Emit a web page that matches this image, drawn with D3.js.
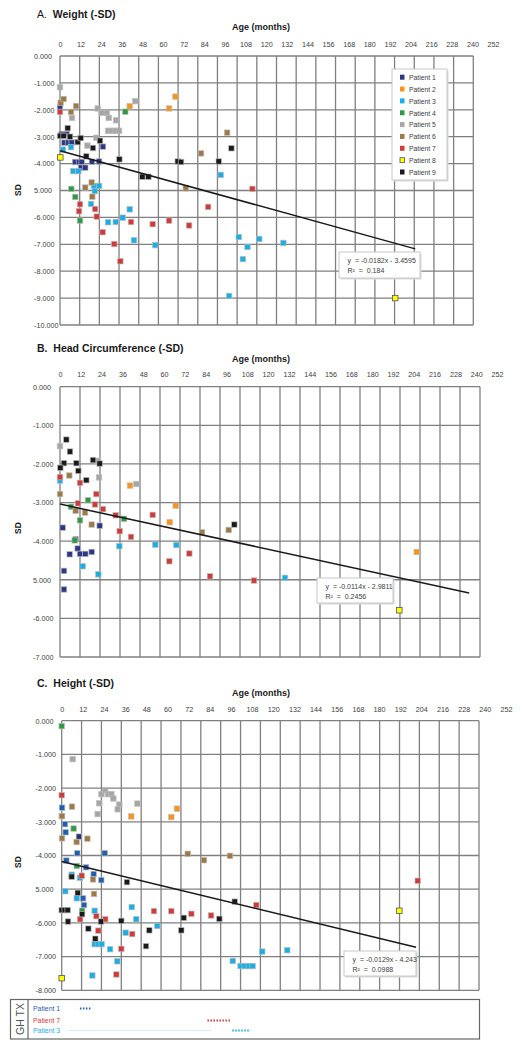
<!DOCTYPE html>
<html><head><meta charset="utf-8">
<script src="https://cdn.jsdelivr.net/npm/d3@7"></script>
<style>
body{margin:0;background:#fff;}
svg{display:block;font-family:"Liberation Sans",Arial,sans-serif;}
</style>
</head><body>
<svg id="c" width="521" height="1050"></svg>
<script>
// ---------- DATA ----------
const ageTicks = [0,12,24,36,48,60,72,84,96,108,120,132,144,156,168,180,192,204,216,228,240,252];
const patients = ["Patient 1","Patient 2","Patient 3","Patient 4","Patient 5","Patient 6","Patient 7","Patient 8","Patient 9"];
const weightTickLabels = ["0.000","-1.000","-2.000","-3.000","-4.000","5.000","-6.000","-7.000","-8.000","-9.000","-10.000"];
const headTickLabels = ["0.000","-1.000","-2.000","-3.000","-4.000","5.000","-6.000","-7.000"];
const heightTickLabels = ["0.000","-1.000","-2.000","-3.000","-4.000","5.000","-6.000","-7.000","-8.000"];

// [patient, age (months), SD]
const weightPoints = [
 [1,0,-1.91],[1,1,-2.90],[1,4.1,-2.90],[1,2.6,-3.22],[1,4.9,-3.22],[1,7.1,-3.22],[1,26.2,-3.37],[1,9.2,-3.94],[1,11.6,-3.94],[1,13.2,-3.94],[1,19.5,-3.93],[1,23.8,-3.92],[1,12.8,-4.15],[1,15.4,-4.15],
 [2,42.5,-1.87],[2,70.4,-1.51],[2,66.5,-1.95],
 [3,1.8,-3.48],[3,6.7,-3.39],[3,8.1,-4.28],[3,11.2,-4.28],[3,98,-4.42],[3,20.7,-4.83],[3,23.8,-4.83],[3,21.2,-5.02],[3,18.9,-5.50],[3,29.3,-6.18],[3,34,-6.17],[3,38.2,-6.01],[3,42.5,-5.70],[3,45.1,-6.85],[3,58.1,-7.03],[3,109,-6.73],[3,111.5,-7.55],[3,114.3,-7.10],[3,103.1,-8.92],[3,121.5,-6.80],[3,136.2,-6.95],
 [4,39.8,-2.07],[4,6.9,-4.94],[4,9.3,-5.24],[4,12.2,-6.12],
 [5,0,-1.16],[5,7.3,-2.30],[5,23,-1.95],[5,25.4,-2.11],[5,28.5,-2.11],[5,29.7,-2.30],[5,34.2,-2.39],[5,29.3,-2.78],[5,31.5,-2.78],[5,33.8,-2.78],[5,36,-2.78],[5,45.9,-1.68],[5,16.7,-3.33],[5,22.1,-3.04],
 [6,0.4,-1.74],[6,2.2,-1.60],[6,9.8,-1.86],[6,6.7,-2.08],[6,101.9,-2.85],[6,86,-3.62],[6,15.4,-4.89],[6,19.3,-4.70],[6,19.7,-5.23],[6,76.7,-4.92],
 [7,0,-2.08],[7,12.2,-5.51],[7,11.6,-5.77],[7,21.4,-5.69],[7,22.4,-5.97],[7,26,-6.55],[7,43.3,-6.17],[7,33.1,-6.99],[7,36.8,-7.63],[7,56.5,-6.25],[7,66.5,-6.12],[7,78.7,-6.30],[7,90.3,-5.61],[7,117.3,-4.94],
 [8,0.2,-3.77],[8,204.4,-9.0],
 [9,4.7,-2.68],[9,0,-2.97],[9,2.2,-2.97],[9,6.1,-3.0],[9,10.8,-3.2],[9,12.6,-3.05],[9,24.4,-3.15],[9,20.1,-3.42],[9,16,-3.73],[9,36.2,-3.84],[9,50.2,-4.49],[9,53.9,-4.49],[9,71.8,-3.92],[9,73.8,-3.94],[9,96.8,-3.92],[9,104.5,-3.43]
];
const headPoints = [
 [1,23.8,-3.60],[1,1.6,-3.65],[1,9.4,-3.95],[1,10.6,-4.19],[1,5.8,-4.34],[1,12,-4.33],[1,15.2,-4.33],[1,19,-4.28],[1,2.4,-4.77],[1,2.4,-5.25],
 [2,42,-2.56],[2,69.4,-3.08],[2,65.8,-3.51],[2,214,-4.28],
 [3,0,-2.43],[3,13.6,-4.65],[3,23,-4.86],[3,35.6,-4.13],[3,57.2,-4.09],[3,69.8,-4.10],[3,135,-4.95],
 [4,16.8,-2.94],[4,6.6,-3.11],[4,12,-3.46],[4,38.4,-3.42],[4,8.8,-3.98],
 [5,0,-1.54],[5,22.6,-1.92],[5,23.4,-2.35],[5,45.8,-2.52],
 [6,5.6,-2.30],[6,0,-2.78],[6,9.4,-3.21],[6,15,-3.26],[6,19,-3.57],[6,101.2,-3.71],[6,85.2,-3.77],
 [7,0,-2.34],[7,12,-2.49],[7,21.8,-2.78],[7,10.8,-3.02],[7,21,-3.05],[7,25.8,-3.17],[7,33.4,-3.33],[7,55.6,-3.32],[7,35.8,-3.74],[7,42.6,-3.89],[7,65.6,-4.52],[7,77.6,-4.32],[7,90,-4.91],[7,116.4,-5.02],
 [8,203.6,-5.79],
 [9,3.8,-1.37],[9,6,-1.68],[9,2.4,-1.98],[9,0.2,-2.10],[9,9.8,-1.98],[9,11,-2.18],[9,19.8,-1.90],[9,23.8,-1.99],[9,15.8,-2.42],[9,104.6,-3.57]
];
const heightPoints = [
 [1,0.2,-2.58],[1,2,-3.07],[1,2.4,-3.31],[1,9.4,-3.93],[1,26,-3.93],[1,2.8,-4.15],[1,14.7,-4.35],[1,19.3,-4.55],[1,23.9,-4.73],[1,12.9,-5.27],[1,13.5,-5.47],[0,10.4,-3.44],
 [2,42,-2.84],[2,66.2,-2.86],[2,69.6,-2.61],
 [3,6,-4.57],[3,11,-4.66],[3,2.2,-5.06],[3,9.1,-5.27],[3,19.9,-5.64],[3,19.9,-6.63],[3,22.2,-6.63],[3,24.1,-6.63],[3,29.2,-6.78],[3,33.6,-7.14],[3,18.5,-7.56],[3,42.3,-5.53],[3,45,-5.89],[3,38.6,-6.29],[3,57.7,-6.09],[3,103.3,-7.13],[3,108,-7.28],[3,110.5,-7.28],[3,113,-7.28],[3,115.3,-7.28],[3,121.1,-6.85],[3,136.2,-6.81],
 [4,0,-0.16],[4,7.2,-3.20],[4,9.1,-4.31],[4,12.3,-5.64],
 [5,6.6,-1.14],[5,0,-2.83],[5,22.7,-2.45],[5,21.7,-2.77],[5,24,-2.18],[5,26.3,-2.06],[5,28,-2.18],[5,30,-2.18],[5,31.2,-2.31],[5,34.8,-2.49],[5,33.8,-2.63],[5,45.7,-2.46],
 [6,6.2,-2.55],[6,0.2,-2.83],[6,15.5,-3.50],[6,0.2,-3.49],[6,9,-3.60],[6,18.9,-4.71],[6,19.5,-5.14],[6,76.1,-3.95],[6,85.9,-4.14],[6,101.6,-4.01],
 [7,0,-2.21],[7,12.1,-4.60],[7,20.9,-5.80],[7,11.1,-5.89],[7,26.3,-5.89],[7,22.1,-6.23],[7,36,-6.77],[7,33,-7.53],[7,42.6,-6.33],[7,55.7,-5.65],[7,66.2,-5.65],[7,78.3,-5.73],[7,90.2,-5.78],[7,117.5,-5.47],[7,215,-4.75],
 [8,0,-7.64],[8,203.9,-5.64],
 [9,6,-4.63],[9,39.4,-4.79],[9,9.7,-5.11],[9,0,-5.62],[9,1.8,-5.62],[9,3.6,-5.62],[9,12.3,-5.74],[9,3.8,-5.96],[9,23.7,-5.96],[9,36,-5.94],[9,16.1,-6.17],[9,20.3,-6.47],[9,52.9,-6.22],[9,50.9,-6.69],[9,72.2,-6.22],[9,73.7,-5.85],[9,95.2,-5.88],[9,104.5,-5.37]
];
// trend lines: [[age0, sd0],[age1, sd1]]
const weightTrend = [[0,-3.52],[216.6,-7.17]];
const headTrend = [[0,-3.04],[245.5,-5.34]];
const heightTrend = [[0,-4.18],[214,-6.72]];
const weightEquation = ["y  = -0.0182x - 3.4595","R\u00B2  =  0.184"];
const headEquation = ["y  = -0.0114x - 2.9811","R\u00B2  =  0.2456"];
const heightEquation = ["y  = -0.0129x - 4.243","R\u00B2  =  0.0988"];
// GH treatment periods (months)
const ghPatients = ["Patient 1","Patient 7","Patient 3"];
const ghPeriods = [[0,11,18,"thick"],[1,88,102,"thick"],[2,4.6,90,"thin"],[2,103,114,"thick"]];

// ---------- STYLE ----------
const colors = {0:"#2b2f78",1:"#2d3784",2:"#f7941d",3:"#1aaee5",4:"#2e9a44",5:"#a6a6a6",6:"#9b7a48",7:"#cf3b3b",8:"#ffff00",9:"#1a1a1a"};
const heightColors = Object.assign({}, colors, {1:"#1f5fae"});
const ghColors = ["#2a5ca8","#cf3b3b","#1aaee5"];
const gridColor = "#808080";
const FONT = "Liberation Sans, Arial, sans-serif";

const svg = d3.select("#c");

function panel(cfg){
  const g = svg.append("g");
  const x = d3.scaleLinear().domain([0,252]).range([cfg.x0,cfg.x1]);
  const xl = d3.scaleLinear().domain([0,252]).range([cfg.x0,cfg.labelEnd]);
  const y = d3.scaleLinear().domain([0,cfg.yMin]).range([cfg.yTop,cfg.yBot]);
  const yTicks = d3.range(0,cfg.yMin-1,-1);

  // title
  const t = g.append("text").attr("x",37).attr("y",cfg.titleY).attr("font-size",10.5).attr("fill","#1a1a1a");
  t.append("tspan").attr("font-weight",cfg.letterBold?"bold":"normal").text(cfg.letter+"\u00A0\u00A0");
  t.append("tspan").attr("font-weight","bold").text(cfg.title);
  g.append("text").attr("x",232).attr("y",cfg.ageY).attr("font-size",9).attr("font-weight","bold").attr("fill","#1a1a1a").text("Age (months)");

  // grid
  g.append("g").selectAll("line").data(ageTicks).join("line")
    .attr("x1",d=>x(d)).attr("x2",d=>x(d)).attr("y1",cfg.yTop).attr("y2",cfg.yBot)
    .attr("stroke",gridColor).attr("stroke-width",1.3);
  g.append("g").selectAll("line").data(yTicks).join("line")
    .attr("x1",cfg.x0).attr("x2",cfg.x1).attr("y1",d=>y(d)).attr("y2",d=>y(d))
    .attr("stroke",gridColor).attr("stroke-width",1.3);

  // top age axis labels
  const ax = d3.axisTop(xl).tickValues(ageTicks).tickSize(0).tickFormat(d3.format("d"));
  const axg = g.append("g").attr("transform",`translate(0,${cfg.tickY})`).call(ax);
  axg.select(".domain").remove();
  axg.selectAll("text").attr("font-size",7.2).attr("fill","#404040").attr("font-family",FONT).attr("dy","0.35em");

  // left SD labels (left aligned as in the original)
  const ay = d3.axisLeft(y).tickValues(yTicks).tickSize(0).tickFormat((d,i)=>cfg.yLabels[i]);
  const ayg = g.append("g").attr("transform",`translate(${cfg.yLabelX},0)`).call(ay);
  ayg.select(".domain").remove();
  ayg.selectAll("text").attr("font-size",7.2).attr("fill","#404040").attr("font-family",FONT)
    .attr("text-anchor","start").attr("x",0);

  g.append("text").attr("transform",`translate(21,${cfg.sdY}) rotate(-90)`).attr("text-anchor","middle")
    .attr("font-size",8.5).attr("font-weight","bold").attr("fill","#1a1a1a").text("SD");

  // points
  const pts = cfg.points.slice().sort((a,b)=>(a[0]||1)-(b[0]||1));
  const s = 5.5;
  g.append("g").selectAll("rect").data(pts).join("rect")
    .attr("x",d=>x(d[1])-s/2).attr("y",d=>y(d[2])-s/2).attr("width",s).attr("height",s)
    .attr("fill",d=>cfg.colors[d[0]])
    .attr("stroke",d=>d[0]===8?"#555":"rgba(190,190,190,0.8)").attr("stroke-width",0.8);

  // trend
  g.append("path").datum(cfg.trend).attr("d",d3.line().x(d=>x(d[0])).y(d=>y(d[1])))
    .attr("stroke","#1a1a1a").attr("stroke-width",1.5).attr("fill","none");

  // equation box
  const e = cfg.eq;
  g.append("rect").attr("x",e.x+1.5).attr("y",e.y+1.5).attr("width",e.w).attr("height",e.h).attr("fill","#d9d9d9");
  g.append("rect").attr("x",e.x).attr("y",e.y).attr("width",e.w).attr("height",e.h).attr("fill","#fff").attr("stroke","#c8c8c8").attr("stroke-width",1);
  cfg.eqText.forEach((line,i)=>{
    g.append("text").attr("x",e.x+8.5).attr("y",e.y+10.5+i*10.5).attr("font-size",7).attr("fill","#404040")
      .attr("xml:space","preserve").style("white-space","pre").text(line);
  });
  return {x,y,g};
}

panel({letter:"A.",letterBold:false,title:"Weight (-SD)",titleY:18,ageY:30,tickY:47,
  x0:60,x1:473.3,labelEnd:493,yTop:56,yBot:325,yMin:-10,yLabels:weightTickLabels,yLabelX:34,sdY:190,
  points:weightPoints,colors:colors,trend:weightTrend,eq:{x:339,y:252,w:81,h:26},eqText:weightEquation});

panel({letter:"B.",letterBold:true,title:"Head Circumference (-SD)",titleY:352,ageY:362,tickY:377,
  x0:60,x1:480,labelEnd:497,yTop:386.7,yBot:657,yMin:-7,yLabels:headTickLabels,yLabelX:33,sdY:528,
  points:headPoints,colors:colors,trend:headTrend,eq:{x:317,y:578,w:76,h:25},eqText:headEquation});

const pc = panel({letter:"C.",letterBold:true,title:"Height (-SD)",titleY:687,ageY:696,tickY:712,
  x0:61.7,x1:479,labelEnd:506,yTop:720.7,yBot:990.3,yMin:-8,yLabels:heightTickLabels,yLabelX:35.5,sdY:862,
  points:heightPoints,colors:heightColors,trend:heightTrend,eq:{x:344,y:951,w:72,h:25},eqText:heightEquation});

// legend (panel A)
const lg = svg.append("g");
lg.append("rect").attr("x",393.5).attr("y",70.5).attr("width",55).attr("height",111).attr("fill","#d9d9d9");
lg.append("rect").attr("x",392).attr("y",69).attr("width",55).attr("height",111).attr("fill","#fff").attr("stroke","#c8c8c8");
patients.forEach((p,i)=>{
  const yy = 77.5 + i*11.85;
  lg.append("rect").attr("x",400).attr("y",yy-2.8).attr("width",4.5).attr("height",5)
    .attr("fill",colors[i+1]).attr("stroke",i===7?"#555":"none").attr("stroke-width",0.8);
  lg.append("text").attr("x",409).attr("y",yy+2.5).attr("font-size",6.8).attr("fill","#404040").text(p);
});

// GH TX box
const gh = svg.append("g");
gh.append("rect").attr("x",10.5).attr("y",999.5).attr("width",469).attr("height",39.5).attr("fill","#fff").attr("stroke","#666").attr("stroke-width",1.2);
gh.append("line").attr("x1",28).attr("x2",28).attr("y1",999.5).attr("y2",1039).attr("stroke","#666").attr("stroke-width",1.2);
gh.append("text").attr("transform","translate(23.5,1019) rotate(-90)").attr("text-anchor","middle").attr("font-size",10.5).attr("fill","#555").text("GH TX");
const ghY = [1008.5,1020.5,1030.5];
ghPatients.forEach((p,i)=>{
  gh.append("text").attr("x",33).attr("y",ghY[i]+2.5).attr("font-size",6.9).attr("fill",ghColors[i]).text(p);
});
ghPeriods.forEach(d=>{
  gh.append("line").attr("x1",pc.x(d[1])).attr("x2",pc.x(d[2])).attr("y1",ghY[d[0]]).attr("y2",ghY[d[0]])
    .attr("stroke",d[3]==="thin"?"#8fd6f2":ghColors[d[0]])
    .attr("stroke-width",d[3]==="thin"?0.8:1.8)
    .attr("stroke-dasharray",d[3]==="thin"?"1,1":"1.5,1.5");
});
</script>
</body></html>
